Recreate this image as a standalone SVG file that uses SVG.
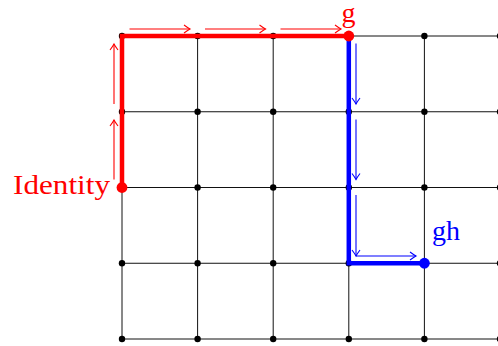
<svg xmlns="http://www.w3.org/2000/svg" width="498" height="346" viewBox="0 0 498 346">
<defs>
<marker id="ar" markerUnits="userSpaceOnUse" markerWidth="14" markerHeight="14" viewBox="-9 -7 11 14" refX="0" refY="0" orient="auto">
<path d="M-6,-4 Q-1.8,-0.9 0,0 Q-1.8,0.9 -6,4" fill="none" stroke="#f00" stroke-width="1.1"/>
</marker>
<marker id="ab" markerUnits="userSpaceOnUse" markerWidth="14" markerHeight="14" viewBox="-9 -7 11 14" refX="0" refY="0" orient="auto">
<path d="M-6,-4 Q-1.8,-0.9 0,0 Q-1.8,0.9 -6,4" fill="none" stroke="#00f" stroke-width="1.1"/>
</marker>
</defs>
<style>
.g{stroke:#111;stroke-width:1;fill:none}
.d{fill:#000}
.ra{stroke:#f00;stroke-width:1.1;fill:none;marker-end:url(#ar)}
.ba{stroke:#00f;stroke-width:1.1;fill:none;marker-end:url(#ab)}
.lbl{font-family:"Liberation Serif",serif;font-size:28px}
</style>
<rect width="498" height="346" fill="#fff"/>
<g id="grid">
<path class="g" d="M122,36H500M122,111.75H500M122,187.5H500M122,263.25H500M122,339H500"/>
<path class="g" d="M122,36V339M197.6,36V339M273.2,36V339M348.8,36V339M424.4,36V339M500,36V339"/>
</g>
<g id="dots">
<g class="d">
<circle cx="122" cy="36" r="3.2"/><circle cx="197.6" cy="36" r="3.2"/><circle cx="273.2" cy="36" r="3.2"/><circle cx="424.4" cy="36" r="3.2"/><circle cx="500" cy="36" r="3.2"/>
<circle cx="122" cy="111.75" r="3.2"/><circle cx="197.6" cy="111.75" r="3.2"/><circle cx="273.2" cy="111.75" r="3.2"/><circle cx="348.8" cy="111.75" r="3.2"/><circle cx="424.4" cy="111.75" r="3.2"/><circle cx="500" cy="111.75" r="3.2"/>
<circle cx="197.6" cy="187.5" r="3.2"/><circle cx="273.2" cy="187.5" r="3.2"/><circle cx="348.8" cy="187.5" r="3.2"/><circle cx="424.4" cy="187.5" r="3.2"/><circle cx="500" cy="187.5" r="3.2"/>
<circle cx="122" cy="263.25" r="3.2"/><circle cx="197.6" cy="263.25" r="3.2"/><circle cx="273.2" cy="263.25" r="3.2"/><circle cx="348.8" cy="263.25" r="3.2"/><circle cx="500" cy="263.25" r="3.2"/>
<circle cx="122" cy="339" r="3.2"/><circle cx="197.6" cy="339" r="3.2"/><circle cx="273.2" cy="339" r="3.2"/><circle cx="348.8" cy="339" r="3.2"/><circle cx="424.4" cy="339" r="3.2"/><circle cx="500" cy="339" r="3.2"/>
</g>
</g>
<g id="connectors">
<path d="M122,187.5V36H348.8" stroke="#f00" stroke-width="4.5" fill="none"/>
<path d="M348.8,36V263.25H424.4" stroke="#00f" stroke-width="4.5" fill="none"/>
<path class="ra" d="M114,179.5V120"/>
<path class="ra" d="M114,104V44"/>
<path class="ra" d="M129.5,29H190"/>
<path class="ra" d="M205,29H265.5"/>
<path class="ra" d="M280.5,29H341"/>
<path class="ba" d="M356,43.5V104"/>
<path class="ba" d="M356,119.5V179.5"/>
<path class="ba" d="M356,195V256"/>
<path class="ba" d="M356,256H416"/>
</g>
<g id="identity">
<circle cx="122" cy="187.5" r="5.4" fill="#f00"/>
<text class="lbl" x="110" y="194" text-anchor="end" fill="#f00" font-size="29" textLength="97" lengthAdjust="spacingAndGlyphs">Identity</text>
</g>
<g id="g-node">
<circle cx="348.8" cy="36" r="5.4" fill="#f00"/>
<text class="lbl" x="348.5" y="21.5" text-anchor="middle" fill="#f00">g</text>
</g>
<g id="gh-node">
<circle cx="424.4" cy="263.25" r="5.4" fill="#00f"/>
<text class="lbl" x="432" y="239.5" fill="#00f">gh</text>
</g>
</svg>
